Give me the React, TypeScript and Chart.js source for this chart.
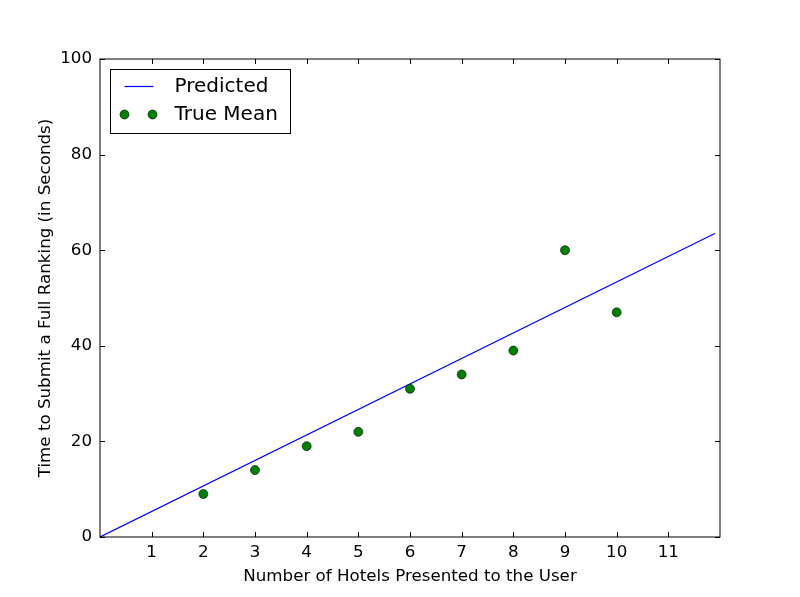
import React, { useEffect, useRef } from "react";
import { Chart, registerables } from "chart.js";

Chart.register(...registerables);

// values
const hotelCounts = [2, 3, 4, 5, 6, 7, 8, 9, 10];
const trueMeans = [9, 14, 19, 22, 31, 34, 39, 60, 47];
const predictedX = [0, 11.9];
const predictedY = [0, 63.5];
const xTicks = [1, 2, 3, 4, 5, 6, 7, 8, 9, 10, 11];
const yTicks = [0, 20, 40, 60, 80, 100];

const FONT = "DejaVu Sans";
const SIZE = 16.7;

// matplotlib-style frame, inward ticks on all four sides, legend box in the corner
const framePlugin = {
  id: "frame",
  afterDraw(chart: Chart) {
    const { ctx, chartArea: a } = chart;
    const xs = chart.scales.x;
    const ys = chart.scales.y;
    ctx.save();
    ctx.strokeStyle = "#000";
    ctx.lineWidth = 1;
    ctx.strokeRect(a.left, a.top, a.right - a.left, a.bottom - a.top);
    ctx.beginPath();
    xTicks.forEach((t) => {
      const px = Math.round(xs.getPixelForValue(t)) + 0.5;
      ctx.moveTo(px, a.bottom);
      ctx.lineTo(px, a.bottom - 5);
      ctx.moveTo(px, a.top);
      ctx.lineTo(px, a.top + 5);
    });
    yTicks.forEach((t) => {
      const py = Math.round(ys.getPixelForValue(t)) + 0.5;
      ctx.moveTo(a.left, py);
      ctx.lineTo(a.left + 5, py);
      ctx.moveTo(a.right, py);
      ctx.lineTo(a.right - 5, py);
    });
    ctx.stroke();

    // legend
    const bx = a.left + 10.5;
    const by = a.top + 10.5;
    ctx.fillStyle = "#fff";
    ctx.fillRect(bx, by, 180, 64);
    ctx.strokeRect(bx, by, 180, 64);
    const ds = chart.data.datasets as any[];
    ctx.font = `20px "${FONT}"`;
    ctx.textBaseline = "middle";
    ctx.textAlign = "left";
    // row 1: line
    ctx.strokeStyle = ds[0].borderColor;
    ctx.lineWidth = ds[0].borderWidth;
    ctx.beginPath();
    ctx.moveTo(bx + 14, by + 17);
    ctx.lineTo(bx + 43, by + 17);
    ctx.stroke();
    ctx.fillStyle = "#000";
    ctx.fillText(ds[0].label, bx + 64, by + 17);
    // row 2: markers
    [bx + 14, bx + 42].forEach((cx) => {
      ctx.beginPath();
      ctx.arc(cx, by + 45, ds[1].pointRadius, 0, Math.PI * 2);
      ctx.fillStyle = ds[1].backgroundColor;
      ctx.fill();
      ctx.strokeStyle = ds[1].borderColor;
      ctx.lineWidth = ds[1].borderWidth;
      ctx.stroke();
    });
    ctx.fillStyle = "#000";
    ctx.fillText(ds[1].label, bx + 64, by + 45);
    ctx.restore();
  },
};

export default function App() {
  const canvasRef = useRef<HTMLCanvasElement>(null);
  const chartRef = useRef<Chart | null>(null);

  useEffect(() => {
    document.body.style.margin = "0";
    if (!canvasRef.current) return;
    if (chartRef.current) chartRef.current.destroy();

    chartRef.current = new Chart(canvasRef.current, {
      type: "scatter",
      data: {
        datasets: [
          {
            label: "Predicted",
            data: predictedX.map((x, i) => ({ x, y: predictedY[i] })),
            showLine: true,
            borderColor: "#0000ff",
            borderWidth: 1.2,
            pointRadius: 0,
            order: 2,
          },
          {
            label: "True Mean",
            data: hotelCounts.map((x, i) => ({ x, y: trueMeans[i] })),
            backgroundColor: "#008000",
            borderColor: "#000",
            borderWidth: 0.6,
            pointRadius: 4.5,
            order: 1,
          },
        ],
      },
      options: {
        responsive: false,
        animation: false,
        layout: { padding: { top: 59, right: 80, left: 0, bottom: 0 } },
        plugins: {
          legend: { display: false },
          tooltip: { enabled: false },
        },
        scales: {
          x: {
            type: "linear",
            min: 0,
            max: 12,
            afterFit: (s: any) => {
              s.height = 60;
            },
            afterBuildTicks: (s: any) => {
              s.ticks = xTicks.map((v) => ({ value: v }));
            },
            grid: { display: false, drawTicks: false },
            border: { display: false },
            ticks: {
              padding: 6,
              color: "#000",
              autoSkip: false,
              maxRotation: 0,
              font: { family: FONT, size: SIZE },
            },
            title: {
              display: true,
              text: "Number of Hotels Presented to the User",
              color: "#000",
              font: { family: FONT, size: SIZE },
              padding: { top: 0, bottom: 10 },
            },
          },
          y: {
            type: "linear",
            min: 0,
            max: 100,
            afterFit: (s: any) => {
              s.width = 100;
            },
            afterBuildTicks: (s: any) => {
              s.ticks = yTicks.map((v) => ({ value: v }));
            },
            grid: { display: false, drawTicks: false },
            border: { display: false },
            ticks: {
              padding: 8,
              color: "#000",
              font: { family: FONT, size: SIZE },
            },
            title: {
              display: true,
              text: "Time to Submit a Full Ranking (in Seconds)",
              color: "#000",
              font: { family: FONT, size: SIZE },
              padding: { top: 36, bottom: 0 },
            },
          },
        },
      },
      plugins: [framePlugin],
    });

    return () => {
      chartRef.current?.destroy();
      chartRef.current = null;
    };
  }, []);

  return (
    <div style={{ width: 800, height: 597 }}>
      <canvas ref={canvasRef} width={800} height={597} />
    </div>
  );
}
